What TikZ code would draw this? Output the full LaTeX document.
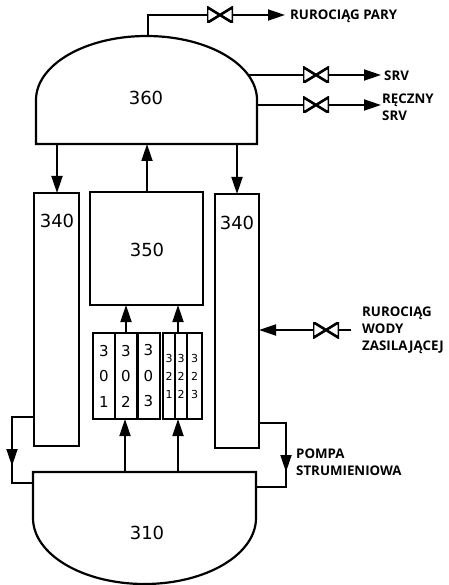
\documentclass[tikz,border=0pt]{standalone}
\usepackage{fontspec}
\setmainfont{DejaVu Sans}
\newfontfamily\tagfont{Open Sans}
\usetikzlibrary{arrows.meta,positioning}
\tikzset{
  pipe/.style={line width=1.8pt,-{Triangle[length=17pt,width=11pt]}},
  plainpipe/.style={line width=1.8pt},
  tank/.style={line width=2.2pt},
  vessel/.style={draw,line width=2.2pt,inner sep=0pt,outer sep=0pt},
  rod/.style={draw,line width=2pt,inner sep=0pt,outer sep=0pt,minimum height=86pt,align=center,font=\fontsize{15}{25.5}\selectfont},
  valve/.style={minimum width=26pt,minimum height=16pt,inner sep=0pt,outer sep=0pt,fill=white,path picture={
      \draw [line width=2.6pt] (path picture bounding box.north west) -- (path picture bounding box.south east)
        -- (path picture bounding box.north east) -- (path picture bounding box.south west) -- cycle;}},
  tag/.style={font=\tagfont\bfseries\fontsize{13.3}{17}\selectfont,inner sep=0pt,align=left},
  num/.style={font=\fontsize{18}{20}\selectfont,inner sep=0pt},
  small/.style={font=\fontsize{11}{18}\selectfont}
}
\begin{document}
\begin{tikzpicture}[x=1pt,y=-1pt]
  \useasboundingbox (0,0) rectangle (448,585);

  % tanks
  \draw [tank] (36,144) -- (36,100) arc [start angle=180,end angle=360,x radius=110.5,y radius=64] -- (257,144) -- cycle;
  \draw [tank] (33,472) -- (33,518) arc [start angle=180,end angle=0,x radius=111.5,y radius=66] -- (256,472) -- cycle;
  \node (t360) [num] at (146,98) {360};
  \node (t310) [num] at (147,533) {310};

  % boxes
  \node (b340l) [vessel,minimum width=45pt,minimum height=253pt] at (56.5,319.5) {};
  \node (b340r) [vessel,minimum width=44pt,minimum height=254pt] at (237,321) {};
  \node (b350) [vessel,minimum width=113pt,minimum height=113pt] at (146.5,248.5) {};
  \node [num] at (57,221) {340};
  \node [num] at (237,223) {340};
  \node [num] at (147,250) {350};

  \node (r301) [rod,minimum width=22pt] at (104,376) {3\\0\\1};
  \node (r302) [rod,minimum width=22pt] at (126,376) {3\\0\\2};
  \node (r303) [rod,minimum width=22pt] at (148.5,376) {3\\0\\3};
  \node (r321) [rod,small,minimum width=12pt] at (169,376) {3\\2\\1};
  \node (r322) [rod,small,minimum width=12pt] at (181,376) {3\\2\\2};
  \node (r323) [rod,small,minimum width=15.5pt] at (194.7,376) {3\\2\\3};
  \draw [tank] (r321.north east) -- (r321.south east);

  % valves
  \node (v1) [valve] at (220,15) {};
  \node (v2) [valve] at (316,75) {};
  \node (v3) [valve] at (316,105) {};
  \node (v4) [valve] at (326,330) {};

  % labels
  \node (parapipe) [tag,anchor=west] at (290,16) {RUROCIĄG PARY};
  \node (srvpipe) [tag,anchor=west] at (384,76) {SRV};
  \node (manualpipe) [tag,anchor=west] at (382,107) {RĘCZNY\\SRV};
  \node (feedpipe) [tag,anchor=west] at (362,330) {RUROCIĄG\\WODY\\ZASILAJĄCEJ};
  \node (pumppipe) [tag,anchor=west] at (296,462) {POMPA\\STRUMIENIOWA};

  % free ends of pipes
  \coordinate (steam) at (148,36);
  \coordinate (steamend) at (285,15);
  \coordinate (srvout) at (248,75);
  \coordinate (srvend) at (381,75);
  \coordinate (manualout) at (257,105);
  \coordinate (manualend) at (381,105);
  \coordinate (feedin) at (351,330);
  \coordinate (domel) at (57,144);
  \coordinate (domem) at (147,144);
  \coordinate (domer) at (237,144);
  \coordinate (toph) at (125,472);
  \coordinate (topk) at (178,472);
  \coordinate (pumpl) at (33,417);
  \coordinate (pumplin) at (33,483);
  \coordinate (pumpr) at (259,423);
  \coordinate (pumprin) at (256,487);
  \coordinate (pumplm) at (12,466);
  \coordinate (pumprm) at (286,472);

  \draw [plainpipe] (steam) |- (v1.west);
  \draw [pipe] (v1.east) -- (steamend);
  \draw [plainpipe] (srvout) -- (v2.west);
  \draw [pipe] (v2.east) -- (srvend);
  \draw [plainpipe] (manualout) -- (v3.west);
  \draw [pipe] (v3.east) -- (manualend);
  \draw [plainpipe] (feedin) -- (v4.east);
  \draw [pipe] (v4.west) -- (b340r.east |- v4.west);

  \draw [pipe] (domel) -- (domel |- b340l.north);
  \draw [pipe] (domem |- b350.north) -- (domem);
  \draw [pipe] (domer) -- (domer |- b340r.north);
  \draw [pipe] (r302.north) -- (r302.north |- b350.south);
  \draw [pipe] (topk |- r322.north) -- (topk |- b350.south);
  \draw [pipe] (toph) -- (toph |- r302.south);
  \draw [pipe] (topk) -- (topk |- r322.south);

  \draw [plainpipe] (pumpl) -| (pumplm);
  \draw [plainpipe] (pumplm) |- (pumplin);
  \draw [pipe] (pumplm |- pumpl) -- (pumplm);
  \draw [plainpipe] (pumpr) -| (pumprm);
  \draw [plainpipe] (pumprm) |- (pumprin);
  \draw [pipe] (pumprm |- pumpr) -- (pumprm);
\end{tikzpicture}
\end{document}
